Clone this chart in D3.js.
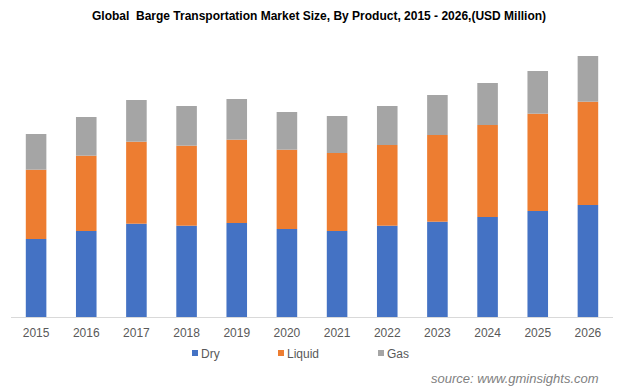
<!DOCTYPE html>
<html>
<head>
<meta charset="utf-8">
<script src="https://cdn.jsdelivr.net/npm/d3@7"></script>
<style>
  html, body { margin: 0; padding: 0; background: #fff; }
  svg { display: block; }
  text { font-family: "Liberation Sans", Arial, sans-serif; }
</style>
</head>
<body>
<svg id="chart" width="624" height="392"></svg>
<script>
const years = ["2015","2016","2017","2018","2019","2020","2021","2022","2023","2024","2025","2026"];
const seriesNames = ["Dry", "Liquid", "Gas"];
const dry    = [78, 86, 93.3, 91.3, 94, 88, 86, 91.3, 95.3, 100, 106, 112];
const liquid = [69.3, 75.3, 82, 80, 83.3, 79.3, 78, 80.7, 86.7, 92, 97.3, 103.3];
const gas    = [35.7, 38.7, 41.7, 39.7, 40.7, 37.7, 37, 39, 40, 42, 42.7, 45.7];
const colors = ["#4472C4", "#ED7D31", "#A5A5A5"];

const svg = d3.select("#chart");

const table = years.map((y, i) => ({ year: y, Dry: dry[i], Liquid: liquid[i], Gas: gas[i] }));
const stacked = d3.stack().keys(seriesNames)(table);

const x = d3.scaleBand().domain(years).range([11, 613]).paddingInner(0.59).paddingOuter(0.295);
const y = d3.scaleLinear().domain([0, 261]).range([317, 56]);
const color = d3.scaleOrdinal().domain(seriesNames).range(colors);

// Title
svg.append("text")
  .attr("x", 92).attr("y", 20)
  .attr("font-size", 12).attr("font-weight", "bold").attr("fill", "#000")
  .attr("xml:space", "preserve")
  .text("Global  Barge Transportation Market Size, By Product, 2015 - 2026,(USD Million)");

// Bars
svg.append("g").selectAll("g").data(stacked).join("g")
  .attr("fill", d => color(d.key))
  .selectAll("rect").data(d => d).join("rect")
  .attr("x", d => x(d.data.year))
  .attr("width", x.bandwidth())
  .attr("y", d => y(d[1]))
  .attr("height", d => y(d[0]) - y(d[1]));

// X axis
const xAxis = svg.append("g").attr("transform", "translate(0,317)")
  .call(d3.axisBottom(x).tickSize(0).tickPadding(0).tickSizeOuter(0));
xAxis.select(".domain").attr("stroke", "#D9D9D9").attr("stroke-width", 1).attr("d", "M11,0.5H613");
xAxis.selectAll(".tick text")
  .attr("y", 20).attr("dy", 0)
  .attr("font-size", 12).attr("fill", "#595959")
  .attr("font-family", "Liberation Sans, Arial, sans-serif");

// Legend
const legendX = [192, 278, 378];
const legend = svg.append("g").selectAll("g").data(seriesNames).join("g")
  .attr("transform", (d, i) => `translate(${legendX[i]},350)`);
legend.append("rect").attr("width", 6).attr("height", 6).attr("fill", d => color(d));
legend.append("text").attr("x", 9).attr("y", 7.5)
  .attr("font-size", 12).attr("fill", "#595959").text(d => d);

// Source
svg.append("text")
  .attr("x", 431).attr("y", 383)
  .attr("font-size", 13).attr("font-style", "italic").attr("fill", "#7F7F7F")
  .text("source: www.gminsights.com");
</script>
</body>
</html>
